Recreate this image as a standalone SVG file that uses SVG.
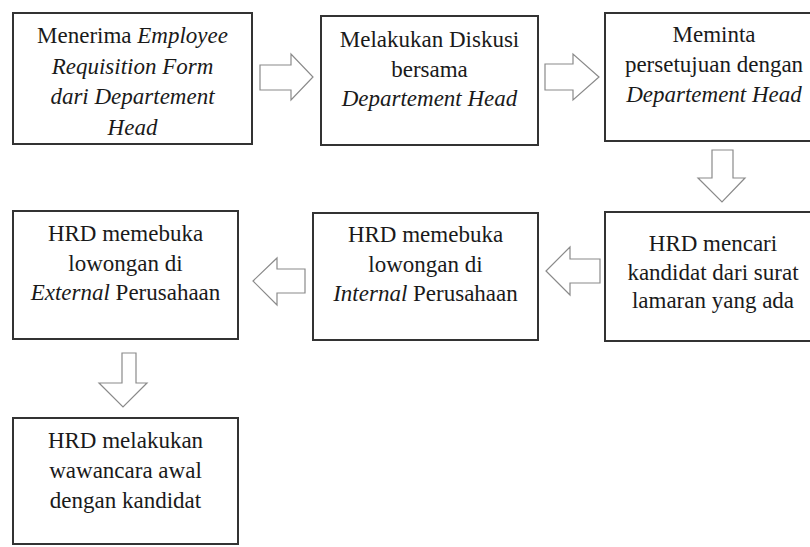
<svg xmlns="http://www.w3.org/2000/svg" width="810" height="547" viewBox="0 0 810 547">
<style>
.box{fill:#fff;stroke:#333;stroke-width:2}
.arr{fill:#fff;stroke:#8a8a8a;stroke-width:1.2;stroke-linejoin:miter}
text{font-family:"Liberation Serif","Times New Roman",serif;font-size:23px;fill:#1a1a1a;text-anchor:middle}
.i{font-style:italic}
</style>
<rect width="810" height="547" fill="#fff"/>
<g id="connectors">
<polygon class="arr" points="260,65 291,65 291,54 313,77 291,100 291,90 260,90"/>
<polygon class="arr" points="545,64 573,64 573,54 599,77 573,100 573,90 545,90"/>
<polygon class="arr" points="712,150 733,150 733,178 745,178 722,202 698,178 712,178"/>
<polygon class="arr" points="600,259 570,259 570,247 546,271 570,295 570,283 600,283"/>
<polygon class="arr" points="305,269 277,269 277,258 253,281 277,305 277,293 305,293"/>
<polygon class="arr" points="122,353 136,353 136,383 147,383 123,407 99,383 122,383"/>
</g>
<g id="n1">
<rect class="box" x="13" y="13" width="239" height="131"/>
<text x="132.5" y="43">Menerima <tspan class="i">Employee</tspan></text>
<text x="132.5" y="73.5" class="i">Requisition Form</text>
<text x="132.5" y="104" class="i">dari Departement</text>
<text x="132.5" y="134.5" class="i">Head</text>
</g>
<g id="n2">
<rect class="box" x="321" y="16" width="217" height="129"/>
<text x="429.5" y="47">Melakukan Diskusi</text>
<text x="429.5" y="77">bersama</text>
<text x="429.5" y="106" class="i">Departement Head</text>
</g>
<g id="n3">
<rect class="box" x="605" y="13" width="218" height="128"/>
<text x="714" y="42">Meminta</text>
<text x="714" y="72">persetujuan dengan</text>
<text x="714" y="102" class="i">Departement Head</text>
</g>
<g id="n4">
<rect class="box" x="605" y="212" width="218" height="129"/>
<text x="713" y="251">HRD mencari</text>
<text x="713" y="280">kandidat dari surat</text>
<text x="713" y="308">lamaran yang ada</text>
</g>
<g id="n5">
<rect class="box" x="313" y="213" width="225" height="127"/>
<text x="425.5" y="242">HRD memebuka</text>
<text x="425.5" y="272">lowongan di</text>
<text x="425.5" y="301"><tspan class="i">Internal</tspan> Perusahaan</text>
</g>
<g id="n6">
<rect class="box" x="13" y="211" width="225" height="128"/>
<text x="125.5" y="241">HRD memebuka</text>
<text x="125.5" y="271">lowongan di</text>
<text x="125.5" y="300"><tspan class="i">External</tspan> Perusahaan</text>
</g>
<g id="n7">
<rect class="box" x="13" y="418" width="225" height="126"/>
<text x="125.5" y="448">HRD melakukan</text>
<text x="125.5" y="478">wawancara awal</text>
<text x="125.5" y="508">dengan kandidat</text>
</g>
</svg>
